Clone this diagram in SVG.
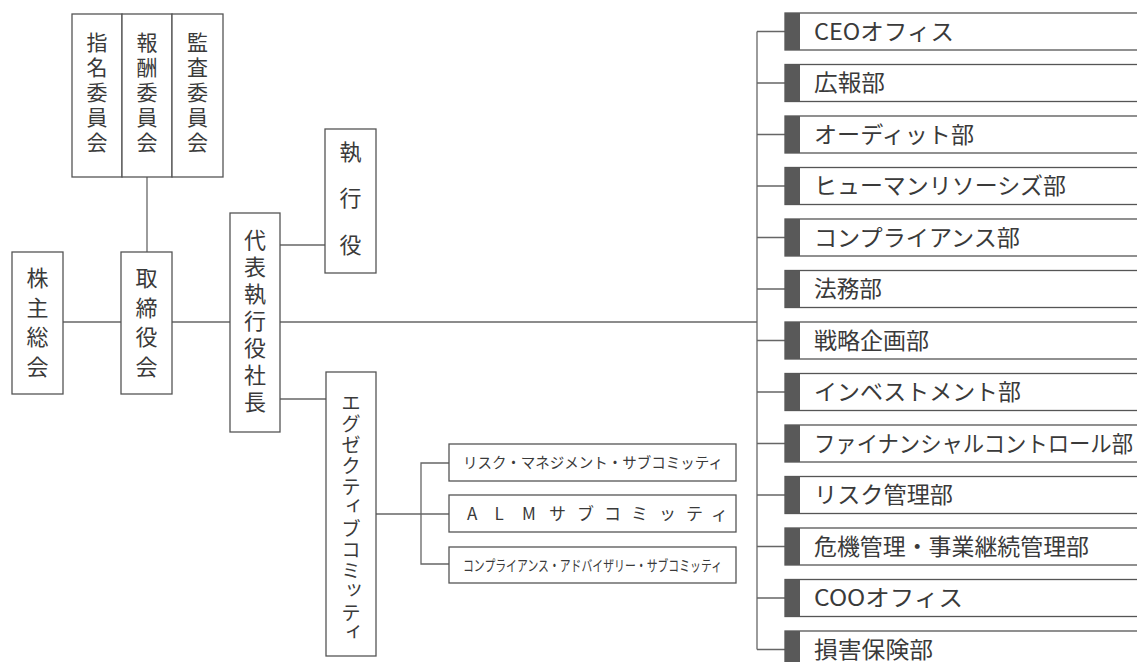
<svg xmlns="http://www.w3.org/2000/svg" width="1137" height="662" viewBox="0 0 1137 662">
<style>
.box{fill:#fff;stroke:#555;stroke-width:1.3}
.bar{fill:#595959}
.ln{fill:none;stroke:#666;stroke-width:1.3}
text{font-family:"Noto Sans CJK JP","Noto Sans",sans-serif;fill:#3a3a3a}
.v{font-size:22px;text-anchor:middle}
.c{font-size:21px;text-anchor:middle}
.ex{font-size:19px;text-anchor:middle}
.sub{font-size:15px}
.dep{font-size:22.5px}
</style>
<rect width="1137" height="662" fill="#fff"/>
<g id="connectors">
<path class="ln" d="M147 177V252"/>
<path class="ln" d="M63 322H121"/>
<path class="ln" d="M172 322H230"/>
<path class="ln" d="M280 322H757"/>
<path class="ln" d="M280 245H325"/>
<path class="ln" d="M280 399H326"/>
<path class="ln" d="M376 514H449"/>
<path class="ln" d="M449 463H421V564H449"/>
<path class="ln" d="M757 31.5V649.5"/>
<path class="ln" d="M757 31.5H785M757 83H785M757 134.5H785M757 186H785M757 237.5H785M757 289H785M757 340.5H785M757 392H785M757 443.5H785M757 495H785M757 546.5H785M757 598H785M757 649.5H785"/>
</g>
<g id="committees">
<g id="nominating">
<rect class="box" x="72" y="14" width="50" height="163"/>
<text class="c" x="97"><tspan x="97" y="49.5">指</tspan><tspan x="97" y="74.5">名</tspan><tspan x="97" y="99.5">委</tspan><tspan x="97" y="124.5">員</tspan><tspan x="97" y="149.5">会</tspan></text>
</g>
<g id="compensation">
<rect class="box" x="122" y="14" width="50" height="163"/>
<text class="c" x="147"><tspan x="147" y="49.5">報</tspan><tspan x="147" y="74.5">酬</tspan><tspan x="147" y="99.5">委</tspan><tspan x="147" y="124.5">員</tspan><tspan x="147" y="149.5">会</tspan></text>
</g>
<g id="audit">
<rect class="box" x="172" y="14" width="51" height="163"/>
<text class="c" x="197.5"><tspan x="197.5" y="49.5">監</tspan><tspan x="197.5" y="74.5">査</tspan><tspan x="197.5" y="99.5">委</tspan><tspan x="197.5" y="124.5">員</tspan><tspan x="197.5" y="149.5">会</tspan></text>
</g>
</g>
<g id="shareholders">
<rect class="box" x="12" y="252" width="51" height="142"/>
<text class="v" x="37.5"><tspan x="37.5" y="286">株</tspan><tspan x="37.5" y="315.5">主</tspan><tspan x="37.5" y="345">総</tspan><tspan x="37.5" y="374.5">会</tspan></text>
</g>
<g id="board">
<rect class="box" x="121" y="252" width="51" height="142"/>
<text class="v" x="146.5"><tspan x="146.5" y="286">取</tspan><tspan x="146.5" y="315.5">締</tspan><tspan x="146.5" y="345">役</tspan><tspan x="146.5" y="374.5">会</tspan></text>
</g>
<g id="ceo">
<rect class="box" x="230" y="213" width="50" height="219"/>
<text class="v" x="255"><tspan x="255" y="248">代</tspan><tspan x="255" y="275">表</tspan><tspan x="255" y="302">執</tspan><tspan x="255" y="329">行</tspan><tspan x="255" y="356">役</tspan><tspan x="255" y="383">社</tspan><tspan x="255" y="410">長</tspan></text>
</g>
<g id="officers">
<rect class="box" x="325" y="129" width="51" height="144"/>
<text class="v" x="350.5"><tspan x="350.5" y="160">執</tspan><tspan x="350.5" y="206">行</tspan><tspan x="350.5" y="253">役</tspan></text>
</g>
<g id="exec-committee">
<rect class="box" x="326" y="372" width="50" height="284"/>
<text class="ex" x="351"><tspan x="351" y="410">エ</tspan><tspan x="351" y="431">グ</tspan><tspan x="351" y="452">ゼ</tspan><tspan x="351" y="473">ク</tspan><tspan x="351" y="494">テ</tspan><tspan x="354" y="511">ィ</tspan><tspan x="351" y="536">ブ</tspan><tspan x="351" y="557">コ</tspan><tspan x="351" y="578">ミ</tspan><tspan x="354" y="595">ッ</tspan><tspan x="351" y="620">テ</tspan><tspan x="354" y="637">ィ</tspan></text>
</g>
<g id="sub-risk">
<rect class="box" x="449" y="444" width="287" height="37"/>
<text class="sub" x="463" y="468" textLength="260" lengthAdjust="spacingAndGlyphs">リスク・マネジメント・サブコミッティ</text>
</g>
<g id="sub-alm">
<rect class="box" x="449" y="495" width="287" height="37"/>
<text class="sub" style="font-size:17px" x="467 494.5 522 549 577 604 631 659 686 711" y="520">ALMサブコミッティ</text>
</g>
<g id="sub-compliance">
<rect class="box" x="449" y="547" width="287" height="36"/>
<text class="sub" x="463" y="570.5" textLength="259" lengthAdjust="spacingAndGlyphs">コンプライアンス・アドバイザリー・サブコミッティ</text>
</g>
<g id="departments">
<g id="d1"><rect class="box" x="785" y="13" width="360" height="37"/><rect class="bar" x="785" y="13" width="15" height="37"/><text class="dep" x="814" y="39.5" textLength="140" lengthAdjust="spacingAndGlyphs">CEOオフィス</text></g>
<g id="d2"><rect class="box" x="785" y="64.5" width="360" height="37"/><rect class="bar" x="785" y="64.5" width="15" height="37"/><text class="dep" x="814" y="91" textLength="71" lengthAdjust="spacingAndGlyphs">広報部</text></g>
<g id="d3"><rect class="box" x="785" y="116" width="360" height="37"/><rect class="bar" x="785" y="116" width="15" height="37"/><text class="dep" x="814" y="142.5" textLength="160" lengthAdjust="spacingAndGlyphs">オーディット部</text></g>
<g id="d4"><rect class="box" x="785" y="167.5" width="360" height="37"/><rect class="bar" x="785" y="167.5" width="15" height="37"/><text class="dep" x="814" y="194" textLength="252" lengthAdjust="spacingAndGlyphs">ヒューマンリソーシズ部</text></g>
<g id="d5"><rect class="box" x="785" y="219" width="360" height="37"/><rect class="bar" x="785" y="219" width="15" height="37"/><text class="dep" x="814" y="245.5" textLength="206" lengthAdjust="spacingAndGlyphs">コンプライアンス部</text></g>
<g id="d6"><rect class="box" x="785" y="270.5" width="360" height="37"/><rect class="bar" x="785" y="270.5" width="15" height="37"/><text class="dep" x="814" y="297" textLength="68" lengthAdjust="spacingAndGlyphs">法務部</text></g>
<g id="d7"><rect class="box" x="785" y="322" width="360" height="37"/><rect class="bar" x="785" y="322" width="15" height="37"/><text class="dep" x="814" y="348.5" textLength="115" lengthAdjust="spacingAndGlyphs">戦略企画部</text></g>
<g id="d8"><rect class="box" x="785" y="373.5" width="360" height="37"/><rect class="bar" x="785" y="373.5" width="15" height="37"/><text class="dep" x="814" y="400" textLength="207" lengthAdjust="spacingAndGlyphs">インベストメント部</text></g>
<g id="d9"><rect class="box" x="785" y="425" width="360" height="37"/><rect class="bar" x="785" y="425" width="15" height="37"/><text class="dep" x="814" y="451.5" textLength="319" lengthAdjust="spacingAndGlyphs">ファイナンシャルコントロール部</text></g>
<g id="d10"><rect class="box" x="785" y="476.5" width="360" height="37"/><rect class="bar" x="785" y="476.5" width="15" height="37"/><text class="dep" x="814" y="503" textLength="139" lengthAdjust="spacingAndGlyphs">リスク管理部</text></g>
<g id="d11"><rect class="box" x="785" y="528" width="360" height="37"/><rect class="bar" x="785" y="528" width="15" height="37"/><text class="dep" x="814" y="554.5" textLength="275" lengthAdjust="spacingAndGlyphs">危機管理・事業継続管理部</text></g>
<g id="d12"><rect class="box" x="785" y="579.5" width="360" height="37"/><rect class="bar" x="785" y="579.5" width="15" height="37"/><text class="dep" x="814" y="606" textLength="149" lengthAdjust="spacingAndGlyphs">COOオフィス</text></g>
<g id="d13"><rect class="box" x="785" y="631" width="360" height="37"/><rect class="bar" x="785" y="631" width="15" height="37"/><text class="dep" x="814" y="657.5" textLength="119" lengthAdjust="spacingAndGlyphs">損害保険部</text></g>
</g>
</svg>
